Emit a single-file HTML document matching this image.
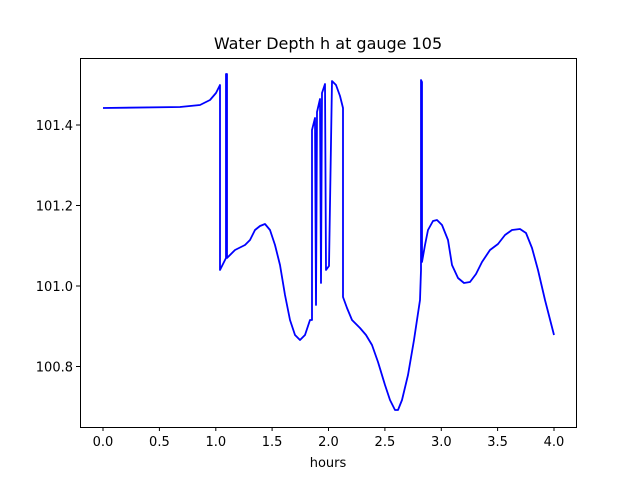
<!DOCTYPE html>
<html><head><style>body{margin:0;background:#fff}svg text{font-family:"DejaVu Sans",sans-serif}</style></head>
<body>
<svg width="640" height="480" xmlns="http://www.w3.org/2000/svg">
<rect width="640" height="480" fill="#fff"/>
<polyline fill="none" stroke="#0000ff" stroke-width="1.8" stroke-linejoin="round" points="103,108 180,107 200,105 210,100 216,93 220,85 220,270 224,262 226,258 226,74 227,74 227,258 235,250 245,245 250,240 255,230 260,226 265,224 270,230 275,245 280,265 285,295 290,320 295,335 300,340 305,335 310,320 312,320 312,130 315,118 316,305 317,112 320,99 321,283 322,93 325,84 326,270 329,266 332,81 336,85 340,96 343,108 343,297 347,308 352,320 360,328 366,335 372,345 378,362 385,385 390,400 395,410 398,410 402,400 408,375 414,340 420,300 421,270 421,80 422,82 422,262 425,245 428,230 433,221 437,220 442,225 448,240 452,265 458,278 464,283 470,282 476,274 482,262 490,250 498,244 505,235 512,230 520,229 526,233 532,248 538,270 545,300 554,335"/>
<rect x="80.5" y="58.5" width="496" height="369" fill="none" stroke="#000" stroke-width="1"/>
<g stroke="#000" stroke-width="1">
<line x1="103" y1="427" x2="103" y2="431"/><line x1="159.4" y1="427" x2="159.4" y2="431"/><line x1="215.8" y1="427" x2="215.8" y2="431"/><line x1="272.1" y1="427" x2="272.1" y2="431"/><line x1="328.5" y1="427" x2="328.5" y2="431"/><line x1="384.9" y1="427" x2="384.9" y2="431"/><line x1="441.3" y1="427" x2="441.3" y2="431"/><line x1="497.6" y1="427" x2="497.6" y2="431"/><line x1="554" y1="427" x2="554" y2="431"/>
<line x1="76" y1="125" x2="80" y2="125"/><line x1="76" y1="205.5" x2="80" y2="205.5"/><line x1="76" y1="286" x2="80" y2="286"/><line x1="76" y1="366.5" x2="80" y2="366.5"/>
</g>
<g font-size="13" text-anchor="middle" fill="#000">
<text x="103" y="446">0.0</text><text x="159.4" y="446">0.5</text><text x="215.8" y="446">1.0</text><text x="272.1" y="446">1.5</text><text x="328.5" y="446">2.0</text><text x="384.9" y="446">2.5</text><text x="441.3" y="446">3.0</text><text x="497.6" y="446">3.5</text><text x="554" y="446">4.0</text>
<text x="328" y="467">hours</text>
</g>
<g font-size="13" text-anchor="end" fill="#000">
<text x="73" y="130">101.4</text><text x="73" y="210.5">101.2</text><text x="73" y="291">101.0</text><text x="73" y="371.5">100.8</text>
</g>
<text x="328" y="49" font-size="16" text-anchor="middle">Water Depth h at gauge 105</text>
</svg>
</body></html>
